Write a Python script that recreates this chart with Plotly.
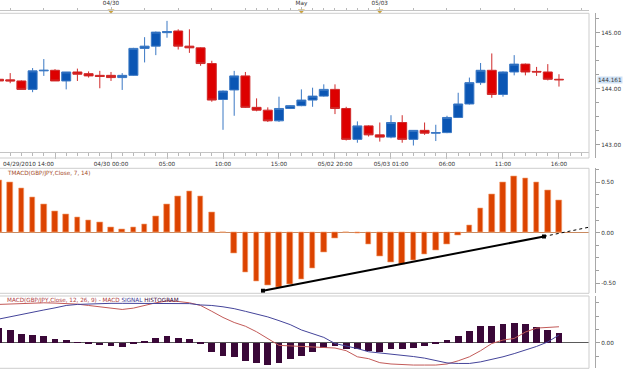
import plotly.graph_objects as go

# ---------------- data ----------------
idx = list(range(51))
open_ = [144.17, 144.16, 144.14, 143.99, 144.32, 144.33, 144.14, 144.30, 144.27, 144.24,
         144.24, 144.20, 144.24, 144.72, 144.76, 145.00, 145.03, 144.76, 144.73, 144.45,
         143.81, 143.98, 144.23, 143.67, 143.62, 143.43, 143.65, 143.70, 143.80, 143.87,
         143.99, 143.65, 143.10, 143.34, 143.18, 143.14, 143.40, 143.10, 143.26, 143.21,
         143.22, 143.49, 143.73, 144.11, 144.33, 143.90, 144.30, 144.44, 144.31, 144.30,
         144.17]
high = [144.19, 144.28, 144.15, 144.37, 144.53, 144.35, 144.30, 144.36, 144.31, 144.32,
        144.30, 144.28, 144.73, 144.92, 145.02, 145.21, 145.06, 145.06, 144.74, 144.50,
        143.97, 144.32, 144.30, 143.83, 143.67, 143.86, 143.71, 143.99, 144.02, 144.08,
        144.08, 143.68, 143.42, 143.35, 143.40, 143.53, 143.53, 143.26, 143.40, 143.36,
        143.52, 143.93, 144.20, 144.46, 144.63, 144.31, 144.60, 144.45, 144.39, 144.44,
        144.26]
low = [144.12, 144.10, 143.99, 143.94, 144.23, 144.14, 143.99, 144.14, 144.20, 144.01,
       144.14, 143.98, 144.23, 144.47, 144.60, 144.91, 144.70, 144.64, 144.41, 143.77,
       143.27, 143.52, 143.66, 143.60, 143.41, 143.41, 143.64, 143.69, 143.68, 143.86,
       143.55, 143.08, 143.04, 143.15, 143.06, 143.12, 143.04, 142.99, 143.18, 143.07,
       143.21, 143.48, 143.72, 144.07, 143.84, 143.86, 144.24, 144.24, 144.23, 144.15,
       144.04]
close = [144.14, 144.14, 143.99, 144.32, 144.33, 144.14, 144.30, 144.26, 144.23, 144.22,
         144.20, 144.24, 144.72, 144.76, 145.01, 145.02, 144.76, 144.73, 144.45, 143.80,
         143.96, 144.23, 143.67, 143.62, 143.43, 143.65, 143.70, 143.80, 143.87, 143.99,
         143.65, 143.10, 143.34, 143.18, 143.14, 143.40, 143.10, 143.26, 143.21, 143.22,
         143.49, 143.73, 144.11, 144.33, 143.90, 144.30, 144.44, 144.30, 144.30, 144.17,
         144.161]

tmacd = [0.52, 0.50, 0.44, 0.35, 0.28, 0.21, 0.18, 0.15, 0.12, 0.10,
         0.056, 0.036, 0.05, 0.08, 0.16, 0.28, 0.36, 0.41, 0.36, 0.20,
         0.0, -0.20, -0.39, -0.48, -0.52, -0.54, -0.51, -0.46, -0.35, -0.19,
         -0.06, 0.0, -0.01, -0.11, -0.235, -0.29, -0.315, -0.275, -0.215, -0.175,
         -0.11, -0.03, 0.073, 0.24, 0.38, 0.50, 0.56, 0.54, 0.50, 0.42, 0.32]

macd_hist = [0.056, 0.048, 0.034, 0.029, 0.024, 0.0125, 0.009, 0.001, -0.004, -0.009,
             -0.0125, -0.016, -0.005, 0.004, 0.019, 0.024, 0.019, 0.014, -0.004, -0.034,
             -0.05, -0.053, -0.069, -0.078, -0.084, -0.075, -0.0625, -0.049, -0.034, -0.019,
             -0.0125, -0.024, -0.024, -0.031, -0.036, -0.025, -0.025, -0.019, -0.011, -0.005,
             0.009, 0.025, 0.045, 0.064, 0.063, 0.069, 0.074, 0.070, 0.060, 0.048, 0.035]
macd_line = [0.144, 0.146, 0.148, 0.149, 0.150, 0.149, 0.148, 0.145, 0.140, 0.135,
             0.130, 0.125, 0.130, 0.140, 0.150, 0.157, 0.155, 0.150, 0.140, 0.118,
             0.095, 0.076, 0.062, 0.041, 0.015, -0.010, -0.012, -0.014, -0.017, -0.019,
             -0.020, -0.030, -0.053, -0.060, -0.075, -0.080, -0.083, -0.084, -0.084, -0.084,
             -0.080, -0.068, -0.053, -0.030, -0.003, 0.010, 0.016, 0.040, 0.055, 0.058, 0.060]
signal = [0.089, 0.098, 0.107, 0.115, 0.123, 0.131, 0.140, 0.144, 0.146, 0.147,
          0.148, 0.148, 0.148, 0.148, 0.148, 0.148, 0.148, 0.147, 0.142, 0.140,
          0.135, 0.128, 0.118, 0.108, 0.097, 0.083, 0.068, 0.048, 0.035, 0.020,
          -0.003, -0.012, -0.022, -0.034, -0.038, -0.043, -0.047, -0.052, -0.058, -0.066,
          -0.076, -0.078, -0.078, -0.072, -0.063, -0.053, -0.041, -0.028, -0.014, 0.003, 0.029]

trend_x = [23.57, 48.66]
trend_y = [-0.574, -0.037]
ext_x = [48.66, 52.6]
ext_y = [-0.037, 0.053]

bottom_tickvals = [5, 10, 15, 20, 25, 30, 35, 40, 45, 50]
bottom_ticktext = ['', '04/30 00:00', '05:00', '10:00', '15:00', '05/02 20:00',
                   '05/03 01:00', '06:00', '11:00', '16:00']
first_label = '04/29/2010 14:00'
top_tickvals = [10, 27, 34]
top_ticktext = ['04/30', 'May', '05/03']
top_minor = [1, 4, 7, 13, 16, 19, 22] + list(range(23, 34)) + [37, 40, 43, 46, 49, 52]

price_ticks = [143, 144, 145]
tmacd_ticks = [-0.5, 0.0, 0.5]
macd_ticks = [0.0]

# ---------------- figure ----------------
W, H = 625, 370
FONT = 'DejaVu Sans'
FS = 5.7
TXT = '#333333'

def py(p):
    return 1 - p / H

fig = go.Figure()

fig.add_trace(go.Candlestick(
    x=idx, open=open_, high=high, low=low, close=close,
    xaxis='x', yaxis='y', whiskerwidth=0, hoverinfo='skip',
    increasing=dict(line=dict(color='#3a78c4', width=1), fillcolor='#0b56b4'),
    decreasing=dict(line=dict(color='#d02a2a', width=1), fillcolor='#dd0000'),
))

fig.add_trace(go.Bar(
    x=idx, y=tmacd, xaxis='x', yaxis='y2', width=0.5,
    marker=dict(color='#dc4300', line=dict(color='#f4a577', width=0.6)),
    hoverinfo='skip'))

fig.add_trace(go.Scatter(
    x=trend_x, y=trend_y, xaxis='x', yaxis='y2', mode='lines+markers',
    line=dict(color='#000000', width=2),
    marker=dict(symbol='square', size=4, color='#000000'), hoverinfo='skip'))
fig.add_trace(go.Scatter(
    x=ext_x, y=ext_y, xaxis='x', yaxis='y2', mode='lines',
    line=dict(color='#000000', width=1, dash='dot'), hoverinfo='skip', cliponaxis=False))

fig.add_trace(go.Bar(
    x=idx, y=macd_hist, xaxis='x', yaxis='y3', width=0.6,
    marker=dict(color='#3a0838', line=dict(width=0)), hoverinfo='skip'))
fig.add_trace(go.Scatter(
    x=idx, y=macd_line, xaxis='x', yaxis='y3', mode='lines',
    line=dict(color='#c25a58', width=1), hoverinfo='skip'))
fig.add_trace(go.Scatter(
    x=idx, y=signal, xaxis='x', yaxis='y3', mode='lines',
    line=dict(color='#44449a', width=1), hoverinfo='skip'))

fig.add_trace(go.Scatter(
    x=top_tickvals, y=[0.5] * len(top_tickvals), xaxis='x2', yaxis='y4', mode='markers',
    marker=dict(symbol='triangle-down', size=6, color='#c9a13a'), hoverinfo='skip'))

x_dom = [0, 589 / W]
x_range = [0.089, 52.68]
ypos = 595 / W
grid_off = dict(showgrid=False, zeroline=False)

fig.update_layout(
    width=W, height=H,
    margin=dict(l=0, r=0, t=0, b=0),
    paper_bgcolor='white', plot_bgcolor='white',
    showlegend=False, boxgap=0.2, boxgroupgap=0, bargap=0,
    font=dict(family=FONT, size=FS, color=TXT),
    xaxis=dict(
        domain=x_dom, range=x_range, anchor='free', position=py(151.7),
        showline=True, linecolor='#c4c4c4', linewidth=1,
        ticks='outside', ticklen=6, tickcolor='#b8b8b8', tickwidth=1,
        tickmode='array', tickvals=bottom_tickvals, ticktext=bottom_ticktext,
        tickfont=dict(size=FS, color=TXT, family=FONT),
        minor=dict(ticks='outside', ticklen=3, tickmode='linear', tick0=0, dtick=1,
                   tickcolor='#b8b8b8', showgrid=False),
        rangeslider=dict(visible=False), fixedrange=True, **grid_off),
    xaxis2=dict(
        overlaying='x', matches='x', anchor='free', position=py(10), side='top',
        showline=True, linecolor='#c4c4c4', linewidth=1,
        ticks='outside', ticklen=3, tickcolor='#b8b8b8',
        tickmode='array', tickvals=top_tickvals, ticktext=top_ticktext,
        tickfont=dict(size=FS, color=TXT, family=FONT),
        minor=dict(ticks='outside', ticklen=2, tickmode='array', tickvals=top_minor,
                   tickcolor='#b8b8b8', showgrid=False),
        **grid_off),
    yaxis=dict(
        domain=[py(158), py(13.3)], range=[142.768, 145.345],
        anchor='free', position=ypos, side='right',
        showline=True, linecolor='#a8a8a8', linewidth=1,
        ticks='outside', ticklen=4, tickcolor='#a0a0a0',
        tickmode='array', tickvals=price_ticks, ticktext=['%.2f' % v for v in price_ticks],
        tickfont=dict(size=FS, color=TXT, family=FONT),
        minor=dict(ticks='outside', ticklen=3, tickmode='linear', tick0=0, dtick=0.25,
                   tickcolor='#a0a0a0', showgrid=False),
        **grid_off),
    yaxis2=dict(
        domain=[py(293.3), py(168.3)], range=[-0.600, 0.638],
        anchor='free', position=ypos, side='right',
        showline=True, linecolor='#a8a8a8', linewidth=1,
        ticks='outside', ticklen=4, tickcolor='#a0a0a0',
        tickmode='array', tickvals=tmacd_ticks, ticktext=['%.2f' % v for v in tmacd_ticks],
        tickfont=dict(size=FS, color=TXT, family=FONT),
        minor=dict(ticks='outside', ticklen=3, tickmode='linear', tick0=0, dtick=0.125,
                   tickcolor='#a0a0a0', showgrid=False),
        showgrid=False, zeroline=True, zerolinecolor='#c98a60', zerolinewidth=1),
    yaxis3=dict(
        domain=[py(368.3), py(296)], range=[-0.0962, 0.1756],
        anchor='free', position=ypos, side='right',
        showline=True, linecolor='#a8a8a8', linewidth=1,
        ticks='outside', ticklen=4, tickcolor='#a0a0a0',
        tickmode='array', tickvals=macd_ticks, ticktext=['%.2f' % v for v in macd_ticks],
        tickfont=dict(size=FS, color=TXT, family=FONT),
        minor=dict(ticks='outside', ticklen=3, tickmode='linear', tick0=0, dtick=0.05,
                   tickcolor='#a0a0a0', showgrid=False),
        showgrid=False, zeroline=True, zerolinecolor='#5a5a5a', zerolinewidth=1),
    yaxis4=dict(domain=[py(14), py(8)], range=[0, 1], anchor='x2', visible=False),
)

box_line = dict(color='#cdcdcd', width=1)
fig.add_shape(type='rect', xref='x domain', yref='y domain', x0=-0.01, x1=1, y0=0, y1=1,
              line=box_line, layer='above')
fig.add_shape(type='rect', xref='x domain', yref='y2 domain', x0=-0.01, x1=1, y0=0, y1=1,
              line=box_line, layer='above')
fig.add_shape(type='rect', xref='x domain', yref='y3 domain', x0=-0.01, x1=1, y0=0, y1=1,
              line=box_line, layer='above')

fig.add_annotation(text=first_label, xref='paper', yref='paper', x=1 / W, y=py(163.5),
                   xanchor='left', yanchor='middle', showarrow=False,
                   font=dict(size=FS, color=TXT, family=FONT))
fig.add_annotation(text='%.3f' % close[-1], xref='paper', yref='y', x=597 / W, y=close[-1],
                   xanchor='left', yanchor='middle', showarrow=False, bgcolor='#cfe2f5',
                   borderpad=0, font=dict(size=FS, color=TXT, family=FONT))
fig.add_annotation(text='TMACD(GBP/JPY,Close, 7, 14)', xref='paper', yref='paper',
                   x=5 / W, y=py(173), xanchor='left', yanchor='middle', showarrow=False,
                   font=dict(size=FS, color='#a4491f', family=FONT))
fig.add_annotation(
    text=("<span style='color:#b03a3a'>MACD(GBP/JPY,Close, 12, 26, 9) - MACD</span> "
          "<span style='color:#3c3c96'>SIGNAL</span> "
          "<span style='color:#3a0838'>HISTOGRAM</span>"),
    xref='paper', yref='paper', x=5 / W, y=py(300.5), xanchor='left', yanchor='middle',
    showarrow=False, font=dict(size=FS, family=FONT))

fig.write_html('out.html', config=dict(displayModeBar=False))
